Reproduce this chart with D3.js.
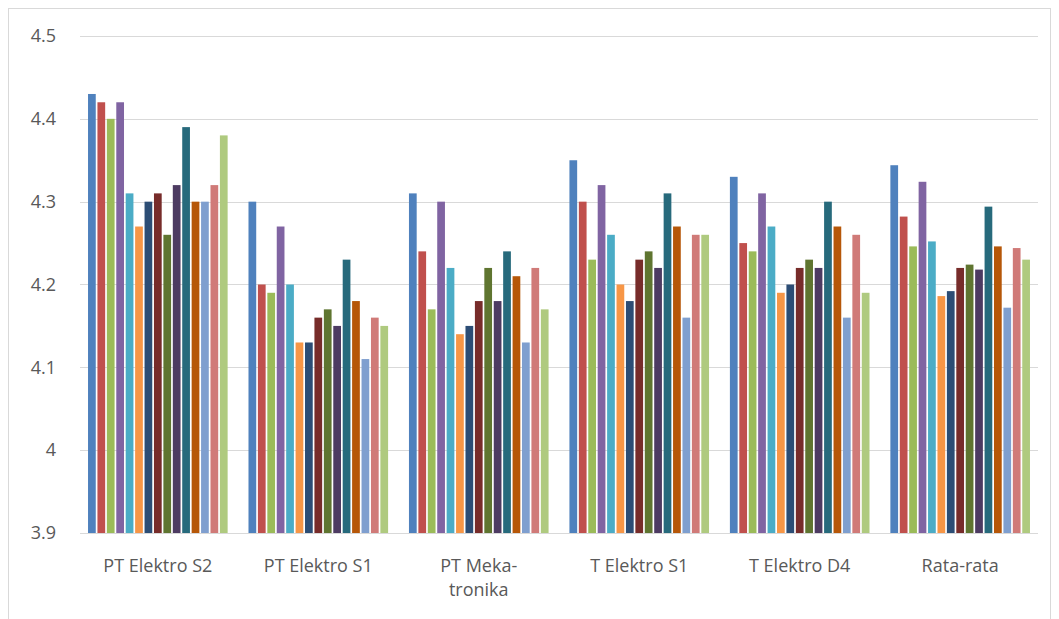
<!DOCTYPE html>
<html><head><meta charset="utf-8">
<script src="https://cdn.jsdelivr.net/npm/d3@7"></script>
<style>body{margin:0;background:#fff}text{font-family:"Open Sans","Liberation Sans",sans-serif}</style>
</head><body><div id="chart"></div>
<script>
const categories = ["PT Elektro S2", "PT Elektro S1", "PT Meka-\ntronika", "T Elektro S1", "T Elektro D4", "Rata-rata"];
const seriesValues = [
  [4.43, 4.42, 4.40, 4.42, 4.31, 4.27, 4.30, 4.31, 4.26, 4.32, 4.39, 4.30, 4.30, 4.32, 4.38],
  [4.30, 4.20, 4.19, 4.27, 4.20, 4.13, 4.13, 4.16, 4.17, 4.15, 4.23, 4.18, 4.11, 4.16, 4.15],
  [4.31, 4.24, 4.17, 4.30, 4.22, 4.14, 4.15, 4.18, 4.22, 4.18, 4.24, 4.21, 4.13, 4.22, 4.17],
  [4.35, 4.30, 4.23, 4.32, 4.26, 4.20, 4.18, 4.23, 4.24, 4.22, 4.31, 4.27, 4.16, 4.26, 4.26],
  [4.33, 4.25, 4.24, 4.31, 4.27, 4.19, 4.20, 4.22, 4.23, 4.22, 4.30, 4.27, 4.16, 4.26, 4.19],
  [4.344, 4.282, 4.246, 4.324, 4.252, 4.186, 4.192, 4.22, 4.224, 4.218, 4.294, 4.246, 4.172, 4.244, 4.23]
];
const colors = ["#4F81BD", "#C0504D", "#9BBB59", "#8064A2", "#4BACC6", "#F79646", "#2C4D75", "#772C2A",
  "#5F7530", "#4D3B62", "#276A7C", "#B65708", "#7F9FCF", "#D07A78", "#AFCA7F"];
const yTicks = [3.9, 4, 4.1, 4.2, 4.3, 4.4, 4.5];

const W = 1059, H = 619;
const mLeft = 80, mRight = 1038, mTop = 36, mBottom = 533;

const svg = d3.select("#chart").append("svg").attr("width", W).attr("height", H).style("display", "block");
svg.append("rect").attr("x", 8.5).attr("y", 8.5).attr("width", 1042).attr("height", 640)
  .attr("fill", "none").attr("stroke", "#d9d9d9");

const y = d3.scaleLinear().domain([3.9, 4.5]).range([mBottom, mTop]);
const x0 = d3.scaleBand().domain(d3.range(categories.length)).range([mLeft, mRight]).paddingInner(0.13).paddingOuter(0.05);
const x1 = d3.scaleBand().domain(d3.range(colors.length)).range([0, x0.bandwidth()]).paddingInner(0.18);

svg.append("g").selectAll("line").data(yTicks).join("line")
  .attr("x1", mLeft).attr("x2", mRight).attr("y1", d => Math.round(y(d)) + 0.5).attr("y2", d => Math.round(y(d)) + 0.5)
  .attr("stroke", "#d9d9d9");
svg.append("g").selectAll("text").data(yTicks).join("text")
  .attr("x", 56).attr("y", d => y(d)).attr("dy", "0.35em").attr("text-anchor", "end")
  .attr("font-size", 18).attr("fill", "#595959").text(d => d);

const g = svg.append("g").selectAll("g").data(seriesValues).join("g")
  .attr("transform", (d, i) => `translate(${x0(i)},0)`);
g.selectAll("rect").data(d => d).join("rect")
  .attr("x", (d, i) => x1(i)).attr("width", x1.bandwidth())
  .attr("y", d => y(d)).attr("height", d => mBottom - y(d))
  .attr("fill", (d, i) => colors[i]);

svg.append("g").selectAll("text").data(categories).join("text")
  .attr("x", (d, i) => x0(i) + x0.bandwidth() / 2).attr("y", 572)
  .attr("text-anchor", "middle").attr("font-size", 18).attr("fill", "#595959")
  .each(function (d) {
    d.split("\n").forEach((t, k) => d3.select(this).append("tspan")
      .attr("x", d3.select(this).attr("x")).attr("dy", k ? 24 : 0).text(t));
  });
</script></body></html>
